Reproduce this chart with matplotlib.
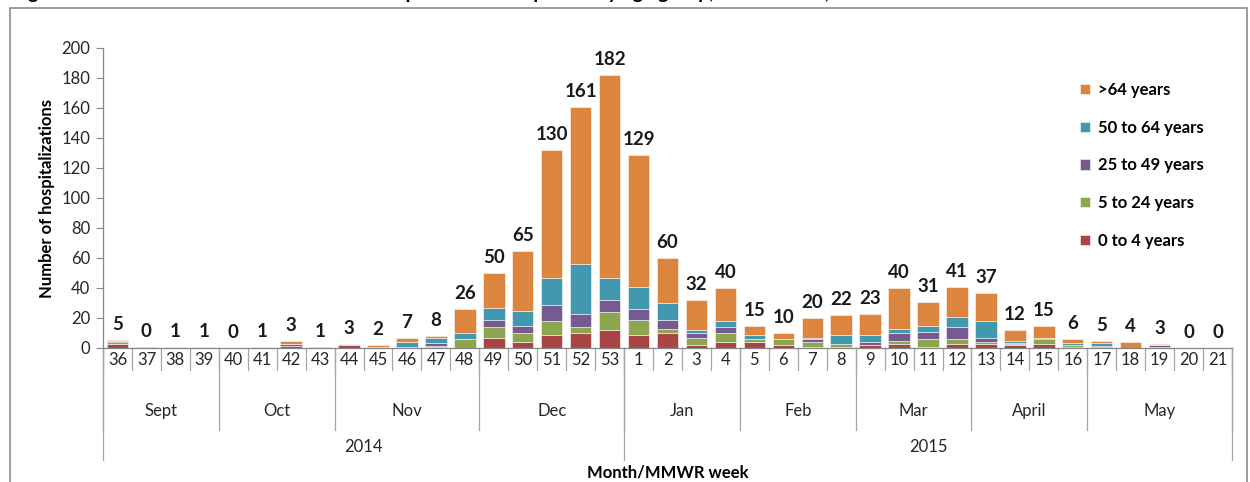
import matplotlib
matplotlib.use('Agg')
import matplotlib.pyplot as plt
from matplotlib.lines import Line2D
from matplotlib.patches import Rectangle
import numpy as np

weeks = ['36', '37', '38', '39', '40', '41', '42', '43', '44', '45', '46', '47', '48',
         '49', '50', '51', '52', '53', '1', '2', '3', '4', '5', '6', '7', '8', '9', '10',
         '11', '12', '13', '14', '15', '16', '17', '18', '19', '20', '21']
months = ['Sept', 'Oct', 'Nov', 'Dec', 'Jan', 'Feb', 'Mar', 'April', 'May']
month_lengths = [4, 4, 5, 5, 4, 4, 4, 4, 5]
years = ['2014', '2015']
year_lengths = [18, 21]

series_names = ['0 to 4 years', '5 to 24 years', '25 to 49 years', '50 to 64 years', '>64 years']
age_0_4 = [3, 0, 0, 0, 0, 0, 1.5, 0, 2, 1, 0.5, 1, 0, 7, 4, 9, 10, 12, 9, 10, 2, 4, 4, 2, 1, 1,
           2, 3, 1, 3, 3, 2, 3, 1, 1, 0, 0.5, 0, 0]
age_5_24 = [1, 0, 0, 0, 0, 0, 0, 0, 0, 0, 0.5, 0.5, 6, 7, 6, 9, 4, 12, 10, 3, 5, 6, 2, 4, 3, 2,
            0, 2, 5, 3, 1, 1, 3, 1, 0, 0, 0, 0, 0]
age_25_49 = [0.5, 0, 0, 0.7, 0, 0, 1.2, 0, 0, 0, 0, 2, 0, 5, 5, 11, 9, 8, 7, 6, 3, 4, 0, 0, 2, 0,
             2, 5, 5, 8, 3, 0.5, 1, 0.3, 0.5, 0, 1.5, 0, 0]
age_50_64 = [0.3, 0, 1, 0, 0, 0.6, 0.3, 0, 1, 0, 3, 3, 4, 8, 10, 18, 33, 15, 15, 11, 2, 4, 3, 0,
             1, 6, 5, 3, 4, 7, 11, 1.5, 0, 1, 2, 0, 0, 0, 0]
age_65plus = [0.5, 0.4, 0, 0, 0, 0, 1.5, 0.6, 0, 1, 3, 1.5, 16, 23, 40, 85, 105, 135, 88, 30, 20,
              22, 6, 4, 13, 13, 14, 27, 16, 20, 19, 7, 8, 3, 1.5, 4, 1, 0, 0]
totals = [5, 0, 1, 1, 0, 1, 3, 1, 3, 2, 7, 8, 26, 50, 65, 130, 161, 182, 129, 60, 32, 40, 15, 10,
          20, 22, 23, 40, 31, 41, 37, 12, 15, 6, 5, 4, 3, 0, 0]

colors = ['#A94544', '#8CA650', '#775A90', '#4198AF', '#DC853E']
series = [age_0_4, age_5_24, age_25_49, age_50_64, age_65plus]

plt.rcParams['font.family'] = ['Lato', 'DejaVu Sans']
fig = plt.figure(figsize=(12.5, 4.82), dpi=100)
ax = fig.add_axes([103 / 1250, 1 - 348 / 482, (1232 - 103) / 1250, 300 / 482])

x = np.arange(len(weeks))
bottom = np.zeros(len(weeks))
handles = []
for name, vals, c in zip(series_names, series, colors):
    v = np.array(vals, dtype=float)
    b = ax.bar(x, v, 0.74, bottom=bottom, color=c, edgecolor=(1, 1, 1, 0.6), linewidth=0.6,
               label=name, zorder=2)
    handles.append(b)
    bottom += v

for xi, top, t in zip(x, bottom, totals):
    ax.annotate(str(t), (xi, top), xytext=(0, 5), textcoords='offset points',
                ha='center', va='bottom', fontsize=13.5, fontweight='bold', color='#1a1a1a')

ax.set_xlim(-0.5, len(weeks) - 0.5)
ax.set_ylim(0, 200)
ax.set_yticks(np.arange(0, 201, 20))
ax.tick_params(axis='y', labelsize=12, colors='#262626', length=5, width=0.8,
               color='#868686', pad=4)
ax.set_xticks([])
for s in ['top', 'right']:
    ax.spines[s].set_visible(False)
for s in ['left', 'bottom']:
    ax.spines[s].set_color('#868686')
    ax.spines[s].set_linewidth(0.9)
ax.set_ylabel('Number of hospitalizations', fontsize=12, fontweight='bold', labelpad=5)

tr = ax.get_xaxis_transform()
line_col = '#A6A6A6'
week_y, month_y, year_y = -0.073, -0.273, -0.373

# week separators and labels
for i in range(len(weeks) + 1):
    ax.add_line(Line2D([i - 0.5, i - 0.5], [0, week_y], transform=tr, color=line_col,
                       lw=0.9, clip_on=False))
for xi, w in zip(x, weeks):
    ax.text(xi, -0.04, w, transform=tr, ha='center', va='center', fontsize=12,
            color='#262626')

# month separators and labels
pos = 0
for m, n in zip(months, month_lengths):
    ax.text(pos + n / 2 - 0.5, -0.21, m, transform=tr, ha='center', va='center',
            fontsize=12, color='#262626')
    ax.add_line(Line2D([pos - 0.5, pos - 0.5], [0, month_y], transform=tr, color=line_col,
                       lw=0.9, clip_on=False))
    pos += n
ax.add_line(Line2D([pos - 0.5, pos - 0.5], [0, month_y], transform=tr, color=line_col,
                   lw=0.9, clip_on=False))

# year separators and labels
pos = 0
for yname, n in zip(years, year_lengths):
    ax.text(pos + n / 2 - 0.5, -0.33, yname, transform=tr, ha='center', va='center',
            fontsize=12, color='#262626')
    ax.add_line(Line2D([pos - 0.5, pos - 0.5], [0, year_y], transform=tr, color=line_col,
                       lw=0.9, clip_on=False))
    pos += n
ax.add_line(Line2D([pos - 0.5, pos - 0.5], [0, year_y], transform=tr, color=line_col,
                   lw=0.9, clip_on=False))

ax.text(0.5, -0.415, 'Month/MMWR week', transform=ax.transAxes, ha='center', va='center',
        fontsize=12, fontweight='bold')

leg = ax.legend(handles[::-1], series_names[::-1], loc='upper left',
                bbox_to_anchor=(1065 / 1250, 1 - 67 / 482), bbox_transform=fig.transFigure,
                frameon=False, handlelength=0.6, handleheight=0.6, handletextpad=0.45,
                labelspacing=1.3, prop={'weight': 'bold', 'size': 12})

# outer chart frame
fig.add_artist(Rectangle((10 / 1250, -0.05), (1247 - 10) / 1250, 1.05 - 8 / 482,
                         transform=fig.transFigure, fill=False, edgecolor='#8c8c8c', lw=1.2))

# clipped title (only the bottom sliver visible in the reference)
fig.text(12 / 1250, 1 + 1 / 482, 'Figure 2. Number of influenza-associated hospitalizations reported by age group, Connecticut, 2014-2015',
         ha='left', va='baseline', fontsize=14, fontweight='bold')

fig.savefig('out.png', dpi=100)
